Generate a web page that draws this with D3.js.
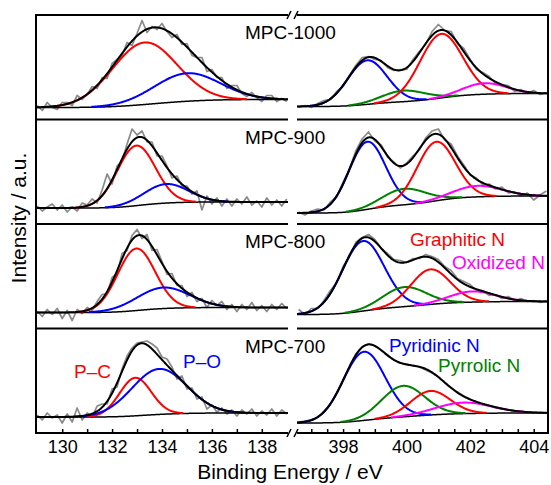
<!DOCTYPE html>
<html>
<head>
<meta charset="utf-8">
<script src="https://cdnjs.cloudflare.com/ajax/libs/d3/7.8.5/d3.min.js"></script>
<style>
body { margin: 0; background: #fff; }
svg text { font-family: Arial, "Liberation Sans", sans-serif; }
</style>
</head>
<body>
<svg width="551" height="485"></svg>
<script>
// ---- data ----
var samples = ["MPC-1000", "MPC-900", "MPC-800", "MPC-700"];

// P 2p region, binding energy (eV)
var pEnergy = [129.0,129.2,129.4,129.6,129.8,130.0,130.2,130.4,130.6,130.8,
    131.0,131.2,131.4,131.6,131.8,132.0,132.2,132.4,132.6,132.8,
    133.0,133.2,133.4,133.6,133.8,134.0,134.2,134.4,134.6,134.8,
    135.0,135.2,135.4,135.6,135.8,136.0,136.2,136.4,136.6,136.8,
    137.0,137.2,137.4,137.6,137.8,138.0,138.2,138.4,138.6,138.8,139.0];
var rawP1000 = [14,9,17,12,10,17,17,14,24,20,25,33,31,42,41,56,60,64,77,74,
    86,99,87,93,90,96,88,82,85,75,76,64,62,62,48,50,42,42,31,34,
    34,26,23,27,22,18,24,24,18,21,18];
var rawP900 = [18,13,17,20,14,19,12,17,13,21,19,25,21,34,50,40,58,63,80,95,
    89,93,82,82,68,68,58,46,48,38,38,30,33,14,28,20,26,18,25,18,
    25,20,27,19,23,17,26,19,24,18,25];
var rawP800 = [17,12,19,14,20,10,18,8,19,15,21,18,27,34,35,51,55,75,78,93,
    99,90,94,78,79,67,54,55,43,43,32,36,27,30,21,28,23,27,19,24,
    17,24,19,26,18,23,17,24,19,25,20];
var rawP700 = [18,13,20,15,18,10,19,11,25,13,20,16,27,29,29,44,46,64,77,85,
    90,91,92,89,85,76,74,66,54,57,44,45,34,36,24,28,21,25,19,23,
    17,23,19,24,17,22,18,24,17,23,19];

// N 1s region, binding energy (eV)
var nEnergy = [396.6,396.8,397.0,397.2,397.4,397.6,397.8,398.0,398.2,398.4,
    398.6,398.8,399.0,399.2,399.4,399.6,399.8,400.0,400.2,400.4,
    400.6,400.8,401.0,401.2,401.4,401.6,401.8,402.0,402.2,402.4,
    402.6,402.8,403.0,403.2,403.4,403.6,403.8,404.0,404.2,404.4];
var rawN1000 = [12,14,12,16,19,20,28,33,44,54,62,63,60,59,52,49,50,50,60,68,
    75,88,95,89,88,76,71,60,50,47,43,36,35,34,28,30,26,29,25,27];
var rawN900 = [12,9,13,15,14,22,27,42,55,73,85,92,83,79,67,62,56,61,68,74,
    86,93,95,84,80,68,59,49,46,39,40,35,37,31,32,28,31,24,29,33];
var rawN800 = [19,14,20,20,28,38,46,62,72,86,91,94,89,80,75,69,68,66,70,70,
    74,72,69,62,58,50,47,44,38,38,33,34,30,32,28,30,27,28,26,28];
var rawN700 = [11,12,13,16,22,29,40,53,66,79,86,89,87,83,78,73,70,69,67,66,
    63,60,56,50,45,41,37,34,31,28,27,25,24,23,22,22,21,20,21,20];

// fitted peaks (centre eV, height, FWHM eV), one entry per sample
var pcCenter = [133.3, 132.97, 132.97, 132.93];
var pcHeight = [62, 60, 62, 38];
var pcFwhm   = [3.05, 1.8, 1.77, 1.5];
var poCenter = [135.0, 134.17, 134.05, 133.89];
var poHeight = [28, 19, 21, 45.5];
var poFwhm   = [3.1, 2.1, 2.5, 2.6];
var pBgLow  = [12, 16, 16, 16];
var pBgHigh = [20, 22, 21, 20];

var pyridCenter = [398.76, 398.76, 398.63, 398.66];
var pyridHeight = [44, 67.6, 70, 68.6];
var pyridFwhm   = [1.45, 1.35, 1.55, 1.55];
var pyrrCenter  = [399.9, 399.92, 399.93, 399.89];
var pyrrHeight  = [11, 16, 19.5, 31];
var pyrrFwhm    = [1.6, 1.6, 1.6, 1.58];
var graphCenter = [401.09, 400.93, 400.75, 400.75];
var graphHeight = [64, 59, 35, 24];
var graphFwhm   = [1.58, 1.42, 1.45, 1.45];
var oxCenter    = [402.45, 402.23, 402.07, 401.8];
var oxHeight    = [11, 11, 10.7, 11];
var oxFwhm      = [1.6, 1.8, 1.7, 2.1];
var nBgLow  = [13, 11, 14, 10];
var nBgHigh = [26, 28, 27, 20];

var pTicks = [130, 131, 132, 133, 134, 135, 136, 137, 138];
var nTicks = [397, 397.5, 398, 398.5, 399, 399.5, 400, 400.5, 401, 401.5, 402, 402.5, 403, 403.5, 404];

// ---- layout ----
var margin = {top: 15, right: 3, bottom: 52, left: 36},
    width = 551 - margin.left - margin.right,
    height = 485 - margin.top - margin.bottom,
    panelH = height / 4;

var svg = d3.select("svg")
    .append("g")
    .attr("transform", "translate(" + margin.left + "," + margin.top + ")");

var xP = d3.scaleLinear().domain([128.95, 139.05]).range([0, 252]);
var xN = d3.scaleLinear().domain([396.55, 404.45]).range([261, width]);
var y = d3.scaleLinear().domain([0, 104.5]).range([panelH, 0]);

var colRed = "#ff0000", colBlue = "#0000ff", colGreen = "#008000", colMag = "#ff00ff";

function gauss(e, c, h, w) {
    return h * Math.pow(2, -Math.pow(2 * (e - c) / w, 2));
}

// components sit on a Shirley-type step background
function fit(grid, peaks, lo, hi) {
    var comps = peaks.map(function(p) { return grid.map(function(e) { return gauss(e, p.c, p.h, p.w); }); });
    var sum = grid.map(function(e, i) { return d3.sum(comps, function(c) { return c[i]; }); });
    var cum = d3.cumsum(sum), tot = cum[cum.length - 1];
    var base = grid.map(function(e, i) { return lo + (hi - lo) * cum[i] / tot; });
    return {
        peaks: comps,
        base: base,
        comps: comps.map(function(c) { return c.map(function(v, i) { return v + base[i]; }); }),
        total: sum.map(function(v, i) { return v + base[i]; })
    };
}

var pGrid = d3.range(128.95, 139.05, 0.02).concat([139.05]);
var nGrid = d3.range(396.55, 404.45, 0.02).concat([404.45]);
var rawP = [rawP1000, rawP900, rawP800, rawP700];
var rawN = [rawN1000, rawN900, rawN800, rawN700];

// mask: optional peak values, line is only drawn where the peak leaves the background
function drawLine(g, xs, x, vals, color, w, mask) {
    g.append("path")
        .datum(xs.map(function(e, i) { return [e, vals[i], mask ? mask[i] : 1]; }))
        .attr("fill", "none")
        .attr("stroke", color)
        .attr("stroke-width", w)
        .attr("stroke-linejoin", "round")
        .attr("d", d3.line()
            .defined(function(d) { return d[2] > 0.4; })
            .x(function(d) { return x(d[0]); })
            .y(function(d) { return y(d[1]); }));
}

samples.forEach(function(name, i) {
    var g = svg.append("g").attr("transform", "translate(0," + (i * panelH) + ")");

    // P 2p
    var pf = fit(pGrid, [
        {c: pcCenter[i], h: pcHeight[i], w: pcFwhm[i]},
        {c: poCenter[i], h: poHeight[i], w: poFwhm[i]}
    ], pBgLow[i], pBgHigh[i]);
    drawLine(g, pEnergy, xP, rawP[i], "#8a8a8a", 1.7);
    drawLine(g, pGrid, xP, pf.base, "#000", 1.5);
    drawLine(g, pGrid, xP, pf.comps[0], colRed, 2, pf.peaks[0]);
    drawLine(g, pGrid, xP, pf.comps[1], colBlue, 2, pf.peaks[1]);
    drawLine(g, pGrid, xP, pf.total, "#000", 2);

    // N 1s
    var nf = fit(nGrid, [
        {c: pyridCenter[i], h: pyridHeight[i], w: pyridFwhm[i]},
        {c: pyrrCenter[i], h: pyrrHeight[i], w: pyrrFwhm[i]},
        {c: graphCenter[i], h: graphHeight[i], w: graphFwhm[i]},
        {c: oxCenter[i], h: oxHeight[i], w: oxFwhm[i]}
    ], nBgLow[i], nBgHigh[i]);
    drawLine(g, nEnergy, xN, rawN[i], "#8a8a8a", 1.7);
    drawLine(g, nGrid, xN, nf.base, "#000", 1.5);
    drawLine(g, nGrid, xN, nf.comps[0], colBlue, 2, nf.peaks[0]);
    drawLine(g, nGrid, xN, nf.comps[1], colGreen, 2, nf.peaks[1]);
    drawLine(g, nGrid, xN, nf.comps[2], colRed, 2, nf.peaks[2]);
    drawLine(g, nGrid, xN, nf.comps[3], colMag, 2, nf.peaks[3]);
    drawLine(g, nGrid, xN, nf.total, "#000", 2);

    g.append("text")
        .attr("x", 209)
        .attr("y", 24)
        .attr("font-size", 19)
        .text(name);
});

// frame with broken axis
var frame = svg.append("g").attr("stroke", "#000").attr("stroke-width", 2);
d3.range(5).forEach(function(k) {
    var yy = k * panelH;
    frame.append("line").attr("x1", 0).attr("x2", 252).attr("y1", yy).attr("y2", yy);
    frame.append("line").attr("x1", 261).attr("x2", width).attr("y1", yy).attr("y2", yy);
});
frame.append("line").attr("x1", 0).attr("x2", 0).attr("y1", -1).attr("y2", height + 1);
frame.append("line").attr("x1", width).attr("x2", width).attr("y1", -1).attr("y2", height + 1);
[0, height].forEach(function(yy) {
    frame.append("line").attr("x1", 251).attr("y1", yy + 4).attr("x2", 255).attr("y2", yy - 4).attr("stroke-width", 1.5);
    frame.append("line").attr("x1", 258).attr("y1", yy + 4).attr("x2", 262).attr("y2", yy - 4).attr("stroke-width", 1.5);
});

// bottom axes
function styleAxis(sel) {
    sel.select(".domain").remove();
    sel.selectAll("line").attr("stroke-width", 1.5);
    sel.selectAll("text").attr("font-size", 18).attr("fill", "#000");
}
svg.append("g")
    .attr("transform", "translate(0," + height + ")")
    .call(d3.axisBottom(xP).tickValues(pTicks).tickSizeInner(-4).tickSizeOuter(0).tickPadding(7)
        .tickFormat(function(d) { return d % 2 === 0 ? d : ""; }))
    .call(styleAxis);
svg.append("g")
    .attr("transform", "translate(0," + height + ")")
    .call(d3.axisBottom(xN).tickValues(nTicks).tickSizeInner(-4).tickSizeOuter(0).tickPadding(7)
        .tickFormat(function(d) { return d % 2 === 0 ? d : ""; }))
    .call(styleAxis);

// axis titles
svg.append("text")
    .attr("x", 254)
    .attr("y", height + 46)
    .attr("text-anchor", "middle")
    .attr("font-size", 21)
    .text("Binding Energy / eV");
svg.append("text")
    .attr("transform", "translate(-10," + (height / 2 - 6) + ") rotate(-90)")
    .attr("text-anchor", "middle")
    .attr("font-size", 21)
    .text("Intensity / a.u.");

// peak labels
var labels = [
    {t: "Graphitic N", x: 374, y: 231, c: colRed},
    {t: "Oxidized N", x: 416, y: 254, c: colMag},
    {t: "Pyridinic N", x: 353, y: 337, c: colBlue},
    {t: "Pyrrolic N", x: 402, y: 357, c: colGreen},
    {t: "P\u2013C", x: 38, y: 363, c: colRed},
    {t: "P\u2013O", x: 147, y: 353, c: colBlue}
];
svg.selectAll(".lab")
    .data(labels)
    .join("text")
    .attr("class", "lab")
    .attr("x", function(d) { return d.x; })
    .attr("y", function(d) { return d.y; })
    .attr("font-size", 19)
    .attr("fill", function(d) { return d.c; })
    .text(function(d) { return d.t; });
</script>
</body>
</html>
